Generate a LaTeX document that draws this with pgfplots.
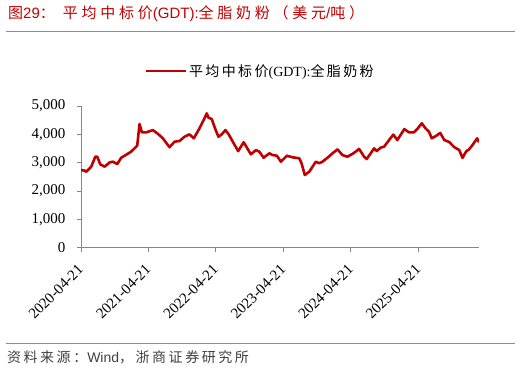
\documentclass[border=0pt]{standalone}
\usepackage{pgfplots}
\pgfplotsset{compat=1.18}
\usepackage{fontspec}
\setmainfont{Liberation Serif}
\newfontfamily\sans{Liberation Sans}
\newfontfamily\cjkT[LetterSpace=25]{Noto Sans CJK SC}
\newfontfamily\cjkL[LetterSpace=17]{Noto Sans CJK SC}
\newfontfamily\cjkF[LetterSpace=18]{Noto Sans CJK SC}
\definecolor{linered}{HTML}{C00000}
\definecolor{titlered}{HTML}{C00000}
\definecolor{rulered}{HTML}{E06A6A}
\definecolor{axgray}{HTML}{868686}
\definecolor{foot}{HTML}{404040}

\pgfplotstableread{
t v
0.000 2740
0.055 2720
0.078 2680
0.152 2860
0.212 3210
0.241 3210
0.286 2940
0.351 2860
0.425 3010
0.473 3035
0.537 2950
0.596 3175
0.646 3245
0.744 3390
0.833 3600
0.868 4365
0.902 4070
0.966 4070
1.065 4150
1.139 4020
1.213 3860
1.312 3545
1.386 3740
1.460 3765
1.534 3915
1.608 4000
1.672 3860
1.756 4210
1.830 4565
1.864 4740
1.889 4590
1.938 4540
1.987 4210
2.037 3915
2.086 4000
2.141 4150
2.189 4000
2.263 3685
2.330 3410
2.411 3720
2.519 3295
2.593 3445
2.643 3390
2.707 3175
2.791 3330
2.840 3270
2.904 3245
2.963 3035
3.052 3245
3.136 3190
3.235 3155
3.269 2980
3.318 2565
3.383 2680
3.481 3035
3.531 2980
3.580 3035
3.654 3175
3.728 3330
3.802 3470
3.876 3270
3.950 3210
4.038 3330
4.123 3485
4.197 3210
4.235 3130
4.294 3330
4.345 3505
4.383 3410
4.442 3530
4.493 3565
4.567 3800
4.630 3990
4.689 3800
4.793 4185
4.862 4070
4.936 4072
4.985 4188
5.052 4389
5.111 4200
5.158 4094
5.200 3860
5.266 3950
5.325 4050
5.385 3800
5.458 3730
5.532 3550
5.607 3447
5.655 3170
5.710 3400
5.754 3470
5.814 3660
5.873 3860
5.900 3720
}\gdt

\begin{document}
\begin{tikzpicture}
\useasboundingbox (0pt,0pt) rectangle (521pt,-374pt);
\node[anchor=west, text=titlered, inner sep=0pt] at (8pt,-13.5pt)
  {\fontsize{15}{17}\selectfont{\cjkT 图}{\sans 29}{\cjkT ：}\hspace{8pt}{\cjkT 平均中标价}{\sans (GDT):}{\cjkT 全脂奶粉（美元}{\sans /}{\cjkT 吨）}};
\draw[rulered, line width=1.3pt] (6pt,-31.5pt) -- (515pt,-31.5pt);
\draw[rulered, line width=1.3pt] (6pt,-343.5pt) -- (515pt,-343.5pt);
\node[anchor=west, text=foot, inner sep=0pt] at (7pt,-357pt)
  {\fontsize{14}{16}\selectfont{\cjkF 资料来源：}{\sans Wind}{\cjkF ，浙商证券研究所}};
\begin{axis}[
  at={(81pt,-247.7pt)}, anchor=south west,
  scale only axis, width=398pt, height=141.7pt,
  xmin=0, xmax=5.9, ymin=0, ymax=5000,
  axis x line=bottom, axis y line=left,
  axis line style={-, draw=axgray, line width=0.9pt},
  tick style={draw=axgray, line width=0.9pt},
  tick align=outside, major tick length=4pt,
  xtick={0,1,2,3,4,5},
  xticklabels={2020-04-21,2021-04-21,2022-04-21,2023-04-21,2024-04-21,2025-04-21},
  x tick label style={xshift=-4pt, yshift=-10pt, rotate=45, anchor=north east, inner sep=1pt, font=\fontsize{15}{15}\selectfont},
  ytick={0,1000,2000,3000,4000,5000},
  y tick label style={font=\fontsize{15}{15}\selectfont, xshift=-8pt},
  /pgf/number format/assume math mode=true,
  /pgf/number format/1000 sep={,},
  legend style={at={(0.45,1.247)}, anchor=center, draw=none, fill=none,
    font=\fontsize{14}{16}\selectfont, inner sep=0pt},
  legend image code/.code={\draw[#1, line width=2.6pt] (0pt,0pt) -- (40pt,0pt);},
]
\addplot[linered, line width=2.6pt, line join=round] table[x=t, y=v] {\gdt};
\addlegendentry{{\cjkL 平均中标价}(GDT):{\cjkL 全脂奶粉}}
\end{axis}
\end{tikzpicture}
\end{document}
